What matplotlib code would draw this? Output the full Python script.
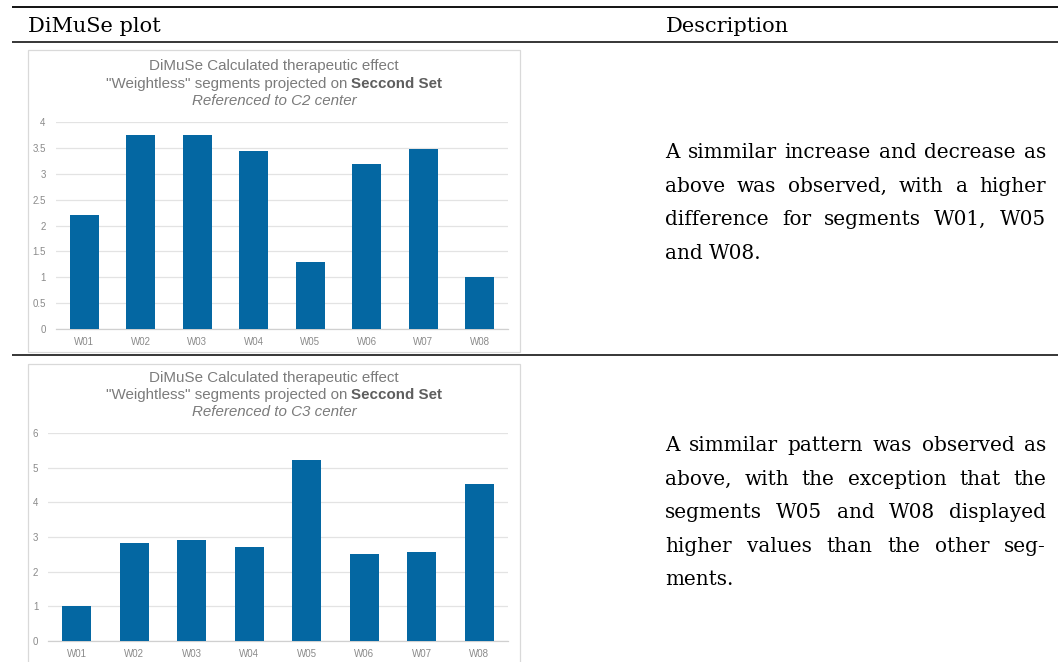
import matplotlib
matplotlib.use('Agg')
import matplotlib.pyplot as plt
from matplotlib.patches import Rectangle

# ---------------- data ----------------
categories = ['W01', 'W02', 'W03', 'W04', 'W05', 'W06', 'W07', 'W08']
c2_values = [2.20, 3.75, 3.74, 3.44, 1.30, 3.18, 3.48, 1.01]
c3_values = [1.00, 2.84, 2.90, 2.71, 5.23, 2.50, 2.57, 4.52]
c2_yticks = [0, 0.5, 1, 1.5, 2, 2.5, 3, 3.5, 4]
c2_yticklabels = ['0', '0.5', '1', '1.5', '2', '2.5', '3', '3.5', '4']
c3_yticks = [0, 1, 2, 3, 4, 5, 6]
c3_yticklabels = ['0', '1', '2', '3', '4', '5', '6']

header_left = 'DiMuSe plot'
header_right = 'Description'
title_line1 = 'DiMuSe Calculated therapeutic effect'
title_line2a = '"Weightless" segments projected on '
title_line2b = 'Seccond Set'
c2_title_line3 = 'Referenced to C2 center'
c3_title_line3 = 'Referenced to C3 center'

desc1_lines = ['A simmilar increase and decrease as',
               'above was observed, with a higher',
               'difference for segments W01, W05',
               'and W08.']
desc2_lines = ['A simmilar pattern was observed as',
               'above, with the exception that the',
               'segments W05 and W08 displayed',
               'higher values than the other seg-',
               'ments.']

# ---------------- style ----------------
W, H = 1064, 662
BAR = '#0467a2'
GRID = '#e3e3e3'
TICK = '#8a8a8a'
TITLE = '#7b7b7b'
TITLE_B = '#5e5e5e'
SERIF = 'DejaVu Serif'
SANS = 'Liberation Sans'
BODY_FS = 14.4
HEAD_FS = 15.0
TITLE_FS = 10.9

fig = plt.figure(figsize=(W / 100, H / 100), dpi=100)
fig.patch.set_facecolor('white')
bg = fig.add_axes([0, 0, 1, 1])
bg.set_xlim(0, W)
bg.set_ylim(H, 0)
bg.axis('off')
renderer = fig.canvas.get_renderer()


def px_axes(l, t, r, b):
    return fig.add_axes([l / W, 1 - b / H, (r - l) / W, (b - t) / H])


def width_of(t):
    return t.get_window_extent(renderer).width


# table rules
for y, lw in [(7, 1.3), (41.5, 1.1), (354.5, 1.1)]:
    bg.plot([12, 1058], [y, y], color='black', lw=lw, solid_capstyle='butt')

bg.text(28, 32, header_left, family=SERIF, fontsize=HEAD_FS, va='baseline', ha='left')
bg.text(666, 32, header_right, family=SERIF, fontsize=HEAD_FS, va='baseline', ha='left')


def chart(box, ax_rect, values, yticks, yticklabels, ymax, title_ys, line3, ypad):
    l, t, r, b = box
    bg.add_patch(Rectangle((l, t), r - l, b - t, fill=False, edgecolor='#d9d9d9', lw=0.9))
    cx = (l + r) / 2
    bg.text(cx, title_ys[0], title_line1, family=SANS, fontsize=TITLE_FS, color=TITLE,
            ha='center', va='center')
    ta = bg.text(0, title_ys[1], title_line2a, family=SANS, fontsize=TITLE_FS, color=TITLE,
                 ha='left', va='center')
    tb = bg.text(0, title_ys[1], title_line2b, family=SANS, fontsize=TITLE_FS, color=TITLE_B,
                 fontweight='bold', ha='left', va='center')
    wa, wb = width_of(ta), width_of(tb)
    x0 = cx - (wa + wb) / 2
    ta.set_x(x0)
    tb.set_x(x0 + wa)
    bg.text(cx, title_ys[2], line3, family=SANS, fontsize=TITLE_FS, color=TITLE, style='italic',
            ha='center', va='center')

    ax = px_axes(*ax_rect)
    ax.set_facecolor('none')
    ax.bar(range(len(categories)), values, width=0.51, color=BAR, zorder=3)
    ax.set_xlim(-0.5, len(categories) - 0.5)
    ax.set_ylim(0, ymax)
    ax.set_xticks(range(len(categories)))
    ax.set_xticklabels(categories)
    ax.set_yticks(yticks)
    ax.set_yticklabels(yticklabels)
    ax.yaxis.grid(True, color=GRID, lw=0.9, zorder=0)
    ax.set_axisbelow(True)
    for s in ['top', 'right', 'left']:
        ax.spines[s].set_visible(False)
    ax.spines['bottom'].set_color('#d0d0d0')
    ax.spines['bottom'].set_linewidth(0.9)
    ax.tick_params(length=0, labelsize=7, labelcolor=TICK)
    ax.tick_params(axis='x', pad=5.5)
    ax.tick_params(axis='y', pad=ypad)
    for lab in ax.get_xticklabels() + ax.get_yticklabels():
        lab.set_family(SANS)


chart((28, 50, 520, 352), (56, 122, 508, 329), c2_values, c2_yticks, c2_yticklabels, 4,
      (66, 84, 101), c2_title_line3, 7.5)
chart((28, 364, 520, 700), (48, 433, 508, 641), c3_values, c3_yticks, c3_yticklabels, 6,
      (378, 395, 412), c3_title_line3, 7.0)


def justified(lines, x_left, x_right, y0, dy):
    probe1 = bg.text(0, 0, 'a b', family=SERIF, fontsize=BODY_FS)
    probe2 = bg.text(0, 0, 'ab', family=SERIF, fontsize=BODY_FS)
    nat_sp = width_of(probe1) - width_of(probe2)
    probe1.remove()
    probe2.remove()
    for i, line in enumerate(lines):
        y = y0 + i * dy
        words = line.split(' ')
        texts = [bg.text(0, y, w, family=SERIF, fontsize=BODY_FS, va='baseline', ha='left')
                 for w in words]
        widths = [width_of(tx) for tx in texts]
        last = (i == len(lines) - 1)
        if last or len(words) == 1:
            sp = nat_sp
        else:
            sp = (x_right - x_left - sum(widths)) / (len(words) - 1)
        x = x_left
        for tx, w in zip(texts, widths):
            tx.set_x(x)
            x += w + sp


justified(desc1_lines, 665, 1046, 158, 33.6)
justified(desc2_lines, 665, 1046, 451, 33.6)

fig.savefig('out.png', dpi=100, facecolor='white')
